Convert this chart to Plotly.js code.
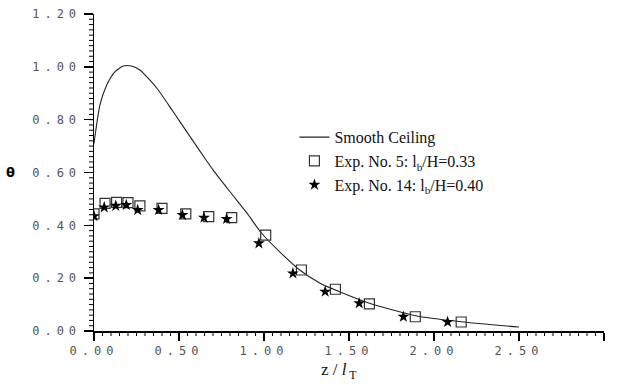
<!DOCTYPE html>
<html>
<head>
<meta charset="utf-8">
<script src="https://cdn.plot.ly/plotly-3.0.1.min.js"></script>
<style>
  html, body { margin: 0; padding: 0; background: #fff; }
  .xtick text, .ytick text { letter-spacing: 5px; }
</style>
</head>
<body>
<div id="chart" style="width:628px;height:385px;"></div>
<script>
// Smooth Ceiling curve
const curveX = [0, 0.035, 0.075, 0.124, 0.172, 0.22, 0.27, 0.37, 0.466, 0.565, 0.65, 0.70, 0.80, 0.90, 0.986, 1.1, 1.21, 1.33, 1.42, 1.62, 1.89, 2.16, 2.5];
const curveY = [0.71, 0.856, 0.931, 0.982, 1.003, 1.003, 0.988, 0.919, 0.830, 0.736, 0.656, 0.61, 0.527, 0.446, 0.37, 0.295, 0.231, 0.181, 0.155, 0.105, 0.058, 0.035, 0.015];

// Exp. No. 5: lb/H = 0.33 (squares)
const exp5X = [0.0, 0.065, 0.133, 0.20, 0.27, 0.40, 0.54, 0.675, 0.81, 1.01, 1.22, 1.42, 1.62, 1.89, 2.16];
const exp5Y = [0.443, 0.483, 0.487, 0.486, 0.474, 0.464, 0.443, 0.433, 0.429, 0.363, 0.231, 0.158, 0.103, 0.054, 0.034];

// Exp. No. 14: lb/H = 0.40 (stars)
const exp14X = [0.0, 0.06, 0.128, 0.19, 0.257, 0.38, 0.52, 0.647, 0.78, 0.97, 1.17, 1.36, 1.56, 1.82, 2.08];
const exp14Y = [0.435, 0.468, 0.474, 0.477, 0.458, 0.458, 0.439, 0.429, 0.424, 0.332, 0.218, 0.149, 0.105, 0.054, 0.034];

const xRange = [0, 3];
const yRange = [0, 1.2];
const xMinorStep = 0.05;
const yMinorStep = 0.02;

// minor tick positions along each axis (axis decoration, not data)
const xMinor = [];
for (let i = 0; i * xMinorStep <= xRange[1] + 1e-9; i++) xMinor.push(+(i * xMinorStep).toFixed(3));
const yMinor = [];
for (let i = 0; i * yMinorStep <= yRange[1] + 1e-9; i++) yMinor.push(+(i * yMinorStep).toFixed(3));

const minorLen = 5; // px
const minorStyle = { color: '#000', width: 1 };

// minor ticks as pixel-sized shapes anchored at axis values
const shapes = [];
xMinor.forEach(v => shapes.push({
  type: 'line', xref: 'x', yref: 'paper', x0: v, x1: v,
  ysizemode: 'pixel', yanchor: 0, y0: 0, y1: -minorLen, line: minorStyle, layer: 'above'
}));
yMinor.forEach(v => shapes.push({
  type: 'line', xref: 'paper', yref: 'y', y0: v, y1: v,
  xsizemode: 'pixel', xanchor: 0, x0: 0, x1: -minorLen, line: minorStyle, layer: 'above'
}));

const traces = [
  { x: curveX, y: curveY, type: 'scatter', mode: 'lines', name: 'Smooth Ceiling',
    line: { color: '#222', width: 1.1, shape: 'spline', smoothing: 0.6 } },
  { x: exp5X, y: exp5Y, type: 'scatter', mode: 'markers', name: 'Exp. No. 5: l<sub>b</sub>/H=0.33',
    marker: { symbol: 'square-open', size: 10, color: '#333', line: { width: 1.2, color: '#333' } } },
  { x: exp14X, y: exp14Y, type: 'scatter', mode: 'markers', name: 'Exp. No. 14: l<sub>b</sub>/H=0.40',
    marker: { symbol: 'star', size: 9, color: '#000', line: { width: 0 } } }
];

const tickFont = { family: 'DejaVu Sans Mono', size: 12, color: '#555' };

const layout = {
  width: 628, height: 385,
  margin: { l: 94, r: 24, t: 14, b: 54 },
  paper_bgcolor: '#fff', plot_bgcolor: '#fff',
  showlegend: true,
  legend: {
    x: 0.393, y: 0.665, xanchor: 'left', yanchor: 'top',
    bgcolor: 'rgba(0,0,0,0)',
    font: { family: 'Liberation Serif', size: 16, color: '#111' },
    tracegroupgap: 0
  },
  xaxis: {
    range: xRange, showgrid: false, zeroline: false,
    showline: true, linecolor: '#000', linewidth: 1.5,
    tickmode: 'linear', tick0: 0, dtick: 0.5, tickformat: '.2f',
    ticks: 'outside', ticklen: 8, tickwidth: 1.5, tickcolor: '#000',
    tickfont: tickFont
  },
  yaxis: {
    range: yRange, showgrid: false, zeroline: false,
    showline: true, linecolor: '#000', linewidth: 1.5,
    tickmode: 'linear', tick0: 0, dtick: 0.2, tickformat: '.2f',
    ticks: 'outside', ticklen: 9, tickwidth: 1.5, tickcolor: '#000',
    tickfont: tickFont
  },
  shapes: shapes,
  annotations: [
    { xref: 'paper', yref: 'y', x: -0.163, y: 0.6, xanchor: 'center', yanchor: 'middle',
      text: '<b>θ</b>', showarrow: false, font: { family: 'DejaVu Sans', size: 13, color: '#000' } },
    { xref: 'paper', yref: 'paper', x: 0.48, y: -0.085, xanchor: 'center', yanchor: 'top',
      text: 'z / <i>l</i><sub> T</sub>', showarrow: false, font: { family: 'Liberation Serif', size: 17, color: '#111' } }
  ]
};

Plotly.newPlot('chart', traces, layout, { displayModeBar: false, staticPlot: true });
</script>
</body>
</html>
